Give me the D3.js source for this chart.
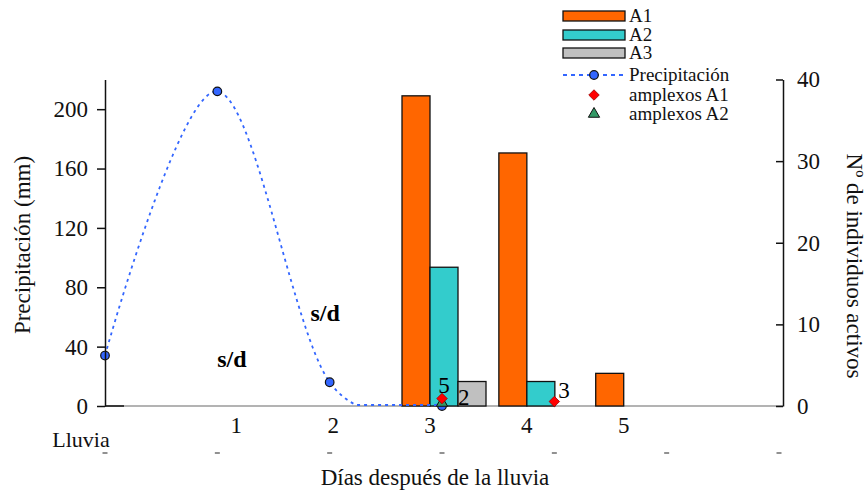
<!DOCTYPE html>
<html>
<head>
<meta charset="utf-8">
<script src="https://cdn.jsdelivr.net/npm/d3@7"></script>
<style>
  html, body { margin: 0; padding: 0; background: #fff; }
  svg { display: block; font-family: "Liberation Serif", "Times New Roman", serif; }
</style>
</head>
<body>
<svg id="chart" width="866" height="495"></svg>
<script>
// Active individuals per group (right axis) by day index
const barDays = [3, 4, 5];
const seriesNames = ["A1", "A2", "A3"];
const valuesA1 = [38, 31, 4];
const valuesA2 = [17, 3, 0];
const valuesA3 = [3, 0, 0];

// Rainfall (left axis, mm) by day index 0..3
const precipDays = [0, 1, 2, 3];
const precipValues = [34, 212, 16, 0];

// Amplexus counts, drawn on the left axis at their counts
const amplexA1Days = [3, 4];
const amplexA1Values = [5, 3];
const amplexA2Days = [3];
const amplexA2Values = [2];

// Axis ticks and day labels
const leftTicks = [0, 40, 80, 120, 160, 200];
const rightTicks = [0, 10, 20, 30, 40];
const dayLabelIndex = [1, 2, 3, 4, 5];
const dayLabelText = ["1", "2", "3", "4", "5"];
// "s/d" (no data) notes: day position and height in mm
const noDataDays = [1.13, 1.96];
const noDataLevels = [32, 63];

const colors = { A1: "#ff6600", A2: "#33cccc", A3: "#c0c0c0" };
const precipColor = "#3366ff";

const svg = d3.select("#chart");
const plot = { left: 105, right: 783, top: 79.5, bottom: 406 };

const yLeft = d3.scaleLinear().domain([0, 220]).range([plot.bottom, plot.top]);
const yRight = d3.scaleLinear().domain([0, 40]).range([plot.bottom, plot.top]);
const xBand = d3.scaleBand().domain(d3.range(7)).range([plot.left, plot.right]).padding(0);
const groupW = 84;
const xSub = d3.scaleBand().domain(seriesNames).range([0, groupW]).padding(0);
const xPoint = d3.scalePoint().domain(d3.range(7)).range([plot.left, 779]);
const xDay = d3.scaleLinear().domain([0, 6]).range([plot.left, 779]);

const groupLeft = d => xBand(d) + xBand.bandwidth() / 2 - groupW / 2;

// baseline
svg.append("line")
  .attr("x1", plot.left).attr("x2", plot.right)
  .attr("y1", plot.bottom).attr("y2", plot.bottom)
  .attr("stroke", "#9a9a9a").attr("stroke-width", 1.5);

// bars
const seriesValues = { A1: valuesA1, A2: valuesA2, A3: valuesA3 };
seriesNames.forEach(name => {
  svg.append("g").selectAll("rect")
    .data(barDays.map((d, i) => ({ day: d, v: seriesValues[name][i] })).filter(o => o.v > 0))
    .join("rect")
    .attr("x", o => groupLeft(o.day) + xSub(name))
    .attr("width", xSub.bandwidth())
    .attr("y", o => yRight(o.v))
    .attr("height", o => yRight(0) - yRight(o.v))
    .attr("fill", colors[name])
    .attr("stroke", "#111").attr("stroke-width", 1.3);
});

// precipitation: smoothed curve, held at the axis floor where it dips below zero
const precipPts = precipDays.map((d, i) => [xPoint(d), yLeft(precipValues[i])]);
const smooth = d3.line().curve(d3.curveCatmullRom.alpha(0));
const tmp = svg.append("path").attr("d", smooth(precipPts)).attr("fill", "none");
const node = tmp.node();
const total = node.getTotalLength();
const samples = d3.range(0, total, 1).concat([total]).map(l => {
  const p = node.getPointAtLength(l);
  return [p.x, Math.min(p.y, yLeft(0) - 1)];
});
tmp.remove();
svg.append("path")
  .attr("d", d3.line()(samples))
  .attr("fill", "none")
  .attr("stroke", precipColor).attr("stroke-width", 1.8)
  .attr("stroke-dasharray", "3,4");
svg.append("g").selectAll("circle")
  .data(precipPts)
  .join("circle")
  .attr("cx", p => p[0]).attr("cy", p => p[1]).attr("r", 4.3)
  .attr("fill", precipColor).attr("stroke", "#111").attr("stroke-width", 1.2);

// amplexus markers
const diamond = d3.symbol().type(d3.symbolDiamond2).size(70);
const triangle = d3.symbol().type(d3.symbolTriangle).size(55);
svg.append("g").selectAll("path")
  .data(amplexA2Days.map((d, i) => ({ d, v: amplexA2Values[i] })))
  .join("path")
  .attr("d", triangle)
  .attr("transform", o => `translate(${xPoint(o.d)},${yLeft(o.v)})`)
  .attr("fill", "#339966").attr("stroke", "#111").attr("stroke-width", 1);
svg.append("g").selectAll("path")
  .data(amplexA1Days.map((d, i) => ({ d, v: amplexA1Values[i] })))
  .join("path")
  .attr("d", diamond)
  .attr("transform", o => `translate(${xPoint(o.d)},${yLeft(o.v)})`)
  .attr("fill", "#ff0000").attr("stroke", "#990000").attr("stroke-width", 0.8);

// amplexus count labels
const numFont = "23px";
svg.append("text").attr("x", xPoint(amplexA1Days[0]) + 2).attr("y", yLeft(amplexA1Values[0]) - 6)
  .attr("text-anchor", "middle").attr("font-size", numFont).text(amplexA1Values[0]);
svg.append("text").attr("x", xPoint(amplexA2Days[0]) + 16).attr("y", yLeft(amplexA2Values[0]) + 2)
  .attr("font-size", numFont).text(amplexA2Values[0]);
svg.append("text").attr("x", xPoint(amplexA1Days[1]) + 4).attr("y", yLeft(amplexA1Values[1]) - 4)
  .attr("font-size", numFont).text(amplexA1Values[1]);

// "s/d" (no data) notes
svg.append("g").selectAll("text")
  .data(noDataDays.map((d, i) => ({ d, v: noDataLevels[i] })))
  .join("text")
  .attr("x", o => xDay(o.d))
  .attr("y", o => yLeft(o.v) + 8)
  .attr("text-anchor", "middle")
  .attr("font-size", "24px").attr("font-weight", "bold")
  .text("s/d");

// left axis
const gL = svg.append("g").attr("transform", `translate(${plot.left},0)`)
  .call(d3.axisLeft(yLeft).tickValues(leftTicks).tickSize(8).tickSizeOuter(0).tickPadding(9));
gL.select(".domain").attr("stroke", "#111").attr("stroke-width", 1.5);
gL.selectAll(".tick line").attr("stroke", "#111").attr("stroke-width", 1.5);
gL.selectAll(".tick text").attr("font-size", "23px").attr("fill", "#111")
  .attr("font-family", "Liberation Serif, serif");
svg.append("line").attr("x1", plot.left).attr("x2", plot.left + 19)
  .attr("y1", plot.bottom).attr("y2", plot.bottom)
  .attr("stroke", "#111").attr("stroke-width", 1.5);

// right axis
const gR = svg.append("g").attr("transform", `translate(${plot.right},0)`)
  .call(d3.axisRight(yRight).tickValues(rightTicks).tickSizeInner(-7).tickSizeOuter(0).tickPadding(14));
gR.select(".domain").attr("stroke", "#111").attr("stroke-width", 1.5);
gR.selectAll(".tick line").attr("stroke", "#111").attr("stroke-width", 1.5);
gR.selectAll(".tick text").attr("font-size", "23px").attr("fill", "#111")
  .attr("font-family", "Liberation Serif, serif");

// day labels
svg.append("g").selectAll("text")
  .data(dayLabelIndex.map((d, i) => ({ d, t: dayLabelText[i] })))
  .join("text")
  .attr("x", o => xBand(o.d) + xBand.bandwidth() / 2 - xSub.bandwidth() / 2)
  .attr("y", 433)
  .attr("text-anchor", "middle").attr("font-size", "23px").attr("fill", "#111")
  .text(o => o.t);
svg.append("text").attr("x", 81).attr("y", 447).attr("text-anchor", "middle")
  .attr("font-size", "22px").attr("fill", "#111").text("Lluvia");

// remnants of the secondary category axis below the labels
svg.append("g").selectAll("line")
  .data(d3.range(7))
  .join("line")
  .attr("x1", d => xPoint(d) - 2.5).attr("x2", d => xPoint(d) + 2.5)
  .attr("y1", 453).attr("y2", 453)
  .attr("stroke", "#555").attr("stroke-width", 1.3);

// axis titles
svg.append("text").attr("x", 435).attr("y", 485).attr("text-anchor", "middle")
  .attr("font-size", "23px").attr("fill", "#111").text("Días después de la lluvia");
svg.append("text").attr("transform", "translate(30,245) rotate(-90)").attr("text-anchor", "middle")
  .attr("font-size", "23px").attr("fill", "#111").text("Precipitación (mm)");
svg.append("text").attr("transform", "translate(847,266) rotate(90)").attr("text-anchor", "middle")
  .attr("font-size", "23px").attr("fill", "#111").text("Nº de individuos activos");

// legend
const lg = svg.append("g").attr("font-size", "19px").attr("fill", "#111");
const lx = 563, lw = 62, tx = 629;
const rowY = [16, 35, 53, 75, 95, 114];
seriesNames.forEach((name, i) => {
  lg.append("rect").attr("x", lx).attr("y", rowY[i] - 5).attr("width", lw).attr("height", 10)
    .attr("fill", colors[name]).attr("stroke", "#111").attr("stroke-width", 1.3);
  lg.append("text").attr("x", tx).attr("y", rowY[i] + 6).text(name);
});
lg.append("line").attr("x1", lx).attr("x2", lx + lw).attr("y1", rowY[3]).attr("y2", rowY[3])
  .attr("stroke", precipColor).attr("stroke-width", 1.8).attr("stroke-dasharray", "4,4");
lg.append("circle").attr("cx", lx + lw / 2).attr("cy", rowY[3]).attr("r", 4.3)
  .attr("fill", precipColor).attr("stroke", "#111").attr("stroke-width", 1.2);
lg.append("text").attr("x", tx).attr("y", rowY[3] + 6).text("Precipitación");
lg.append("path").attr("d", diamond).attr("transform", `translate(${lx + lw / 2},${rowY[4]})`)
  .attr("fill", "#ff0000").attr("stroke", "#990000").attr("stroke-width", 0.8);
lg.append("text").attr("x", tx).attr("y", rowY[4] + 6).text("amplexos A1");
lg.append("path").attr("d", triangle).attr("transform", `translate(${lx + lw / 2},${rowY[5]})`)
  .attr("fill", "#339966").attr("stroke", "#111").attr("stroke-width", 1);
lg.append("text").attr("x", tx).attr("y", rowY[5] + 6).text("amplexos A2");
</script>
</body>
</html>
